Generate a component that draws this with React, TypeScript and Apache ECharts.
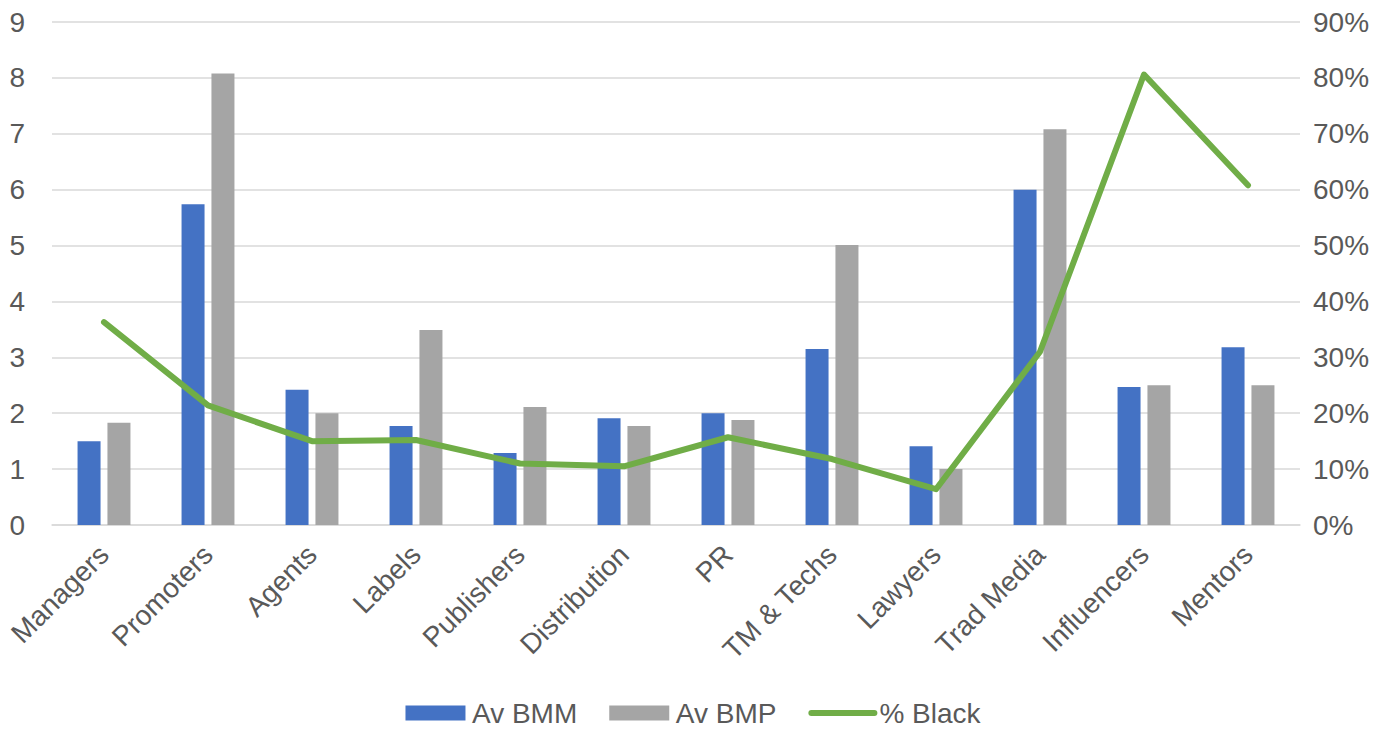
import React, { useEffect, useRef } from "react";
import * as echarts from "echarts";

const categories = ["Managers", "Promoters", "Agents", "Labels", "Publishers", "Distribution", "PR", "TM & Techs", "Lawyers", "Trad Media", "Influencers", "Mentors"];
const avBMM = [1.5, 5.74, 2.42, 1.77, 1.29, 1.91, 2.0, 3.15, 1.41, 6.0, 2.47, 3.18];
const avBMP = [1.83, 8.08, 2.0, 3.49, 2.11, 1.77, 1.88, 5.01, 1.0, 7.08, 2.5, 2.5];
const pctBlack = [36.3, 21.4, 15.0, 15.2, 11.0, 10.5, 15.7, 11.8, 6.4, 31.0, 80.6, 60.8];
const leftTicks = [0, 9, 1];
const rightTicks = [0, 90, 10];

const FONT = "'Liberation Sans', Arial, sans-serif";
const TXT = "#595959";
const FS = 28;

export default function App() {
  const ref = useRef<HTMLDivElement>(null);
  useEffect(() => {
    const chart = echarts.init(ref.current!, null, { renderer: "svg" });
    chart.setOption({
      animation: false,
      textStyle: { fontFamily: FONT },
      grid: { left: 52, right: 86, top: 22, bottom: 210, containLabel: false },
      legend: {
        top: 699,
        left: "center",
        padding: 0,
        itemWidth: 69,
        itemHeight: 15,
        itemGap: 32,
        textStyle: { fontSize: FS, color: TXT, fontFamily: FONT, padding: [0, 0, 0, -3] },
        data: [
          { name: "Av BMM", icon: "path://M0,0H60V15H0Z" },
          { name: "Av BMP", icon: "path://M0,0H60V15H0Z" },
          { name: "% Black", icon: "path://M3,0 L66,0 A3,3 0 0 1 66,6 L3,6 A3,3 0 0 1 3,0 Z" },
        ],
      },
      xAxis: {
        type: "category",
        data: categories,
        axisLine: { show: true, lineStyle: { color: "#D9D9D9", width: 1.5 } },
        axisTick: { show: false },
        axisLabel: { rotate: 45, fontSize: FS, color: TXT, fontFamily: FONT, margin: 25, interval: 0 },
      },
      yAxis: [
        {
          type: "value",
          min: leftTicks[0],
          max: leftTicks[1],
          interval: leftTicks[2],
          axisLine: { show: false },
          axisTick: { show: false },
          splitLine: { lineStyle: { color: "#D9D9D9", width: 1.5 } },
          axisLabel: { fontSize: FS, color: TXT, fontFamily: FONT, margin: 27 },
        },
        {
          type: "value",
          min: rightTicks[0],
          max: rightTicks[1],
          interval: rightTicks[2],
          axisLine: { show: false },
          axisTick: { show: false },
          splitLine: { show: false },
          axisLabel: { fontSize: FS, color: TXT, fontFamily: FONT, margin: 13, formatter: "{value}%" },
        },
      ],
      series: [
        {
          name: "Av BMM",
          type: "bar",
          data: avBMM,
          barWidth: 23,
          barGap: "30%",
          itemStyle: { color: "#4472C4" },
        },
        {
          name: "Av BMP",
          type: "bar",
          data: avBMP,
          barWidth: 23,
          itemStyle: { color: "#A5A5A5" },
        },
        {
          name: "% Black",
          type: "line",
          yAxisIndex: 1,
          data: pctBlack,
          symbol: "none",
          lineStyle: { color: "#70AD47", width: 6, cap: "round", join: "round" },
          itemStyle: { color: "#70AD47" },
        },
      ],
    });
    return () => chart.dispose();
  }, []);
  return <div ref={ref} style={{ width: 1386, height: 735, position: "absolute", left: 0, top: 0 }} />;
}
